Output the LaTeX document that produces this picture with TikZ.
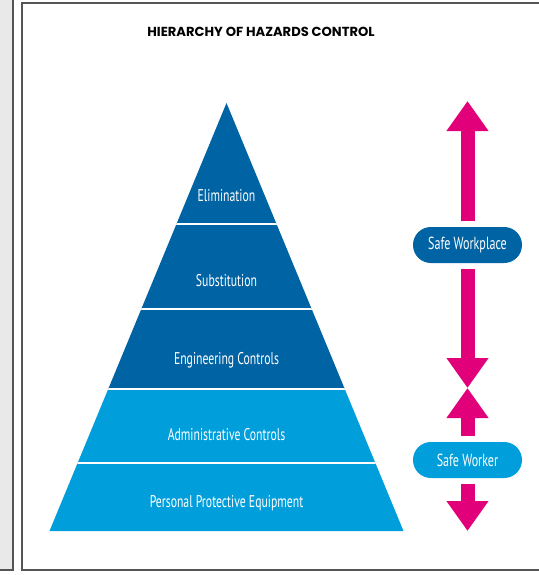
\documentclass[tikz,border=0pt]{standalone}
\usepackage{fontspec}
\setmainfont{PT Sans}
\newfontfamily\titlefont{Poppins}
\newfontfamily\narrowfont[FakeStretch=0.69]{PT Sans}
\usepackage{tikz}
\usetikzlibrary{positioning, calc, arrows.meta}
\definecolor{darkblue}{HTML}{0063A4}
\definecolor{lightblue}{HTML}{009EDB}
\definecolor{hazardpink}{HTML}{E2007A}
\definecolor{panelgrey}{HTML}{E9E9E9}
\definecolor{framegrey}{HTML}{555555}

\begin{document}
\begin{tikzpicture}[x=1pt, y=-1pt]
\tikzset{Level/.style={font=\narrowfont\fontsize{17}{17}\selectfont, text=white}}
\tikzset{Pill/.style={shape=rectangle, rounded corners=17.9pt, minimum width=109pt, minimum height=36pt, inner sep=0pt, outer sep=6pt, text=white, font=\narrowfont\fontsize{17.5}{17.5}\selectfont}}
\tikzset{Fat/.style={draw=hazardpink, line width=14pt, -{Triangle[length=30pt, width=40pt]}}}
\useasboundingbox (0,0) rectangle (538,575);

% frame
\fill[panelgrey] (-5,-5) rectangle (13,570);
\draw[framegrey, line width=1.5pt] (13,-5) -- (13,570) -- (-5,570);
\draw[framegrey, line width=1.5pt] (22,3) rectangle (560,570);

% pyramid
\coordinate (apex) at (226.5,103);
\coordinate (bl) at (49.5,531);
\coordinate (br) at (403.5,531);
\begin{scope}
\clip (apex) -- (bl) -- (br) -- cycle;
\fill[darkblue] (0,100) rectangle (538,389);
\fill[lightblue] (0,389) rectangle (538,535);
\foreach \y in {224,309,389,463}
  \draw[white, line width=1.8pt] (0,\y) -- (538,\y);
\end{scope}

% nodes
\node[font=\titlefont\bfseries\fontsize{13.1}{14}\selectfont] (title) at (261,32) {HIERARCHY OF HAZARDS CONTROL};
\node[Level] (elim) at (226.5,196) {Elimination};
\node[Level] (subst) at (226.5,281) {Substitution};
\node[Level] (eng) at (226.5,360) {Engineering Controls};
\node[Level] (admin) at (226.5,435) {Administrative Controls};
\node[Level] (ppe) at (226.5,503) {Personal Protective Equipment};

\node[Pill, fill=darkblue] (workplace) at (467.5,245) {Safe Workplace};
\node[Pill, fill=lightblue] (worker) at (467.5,460) {Safe Worker};
\coordinate (top) at (467.5,101);
\coordinate (meet) at (467.5,388);
\coordinate (bottom) at (467.5,531);

% arrows
\draw[Fat] (workplace) -- (top);
\draw[Fat] (workplace) -- (meet);
\draw[Fat] (worker) -- (meet);
\draw[Fat] (worker) -- (bottom);
\end{tikzpicture}
\end{document}
